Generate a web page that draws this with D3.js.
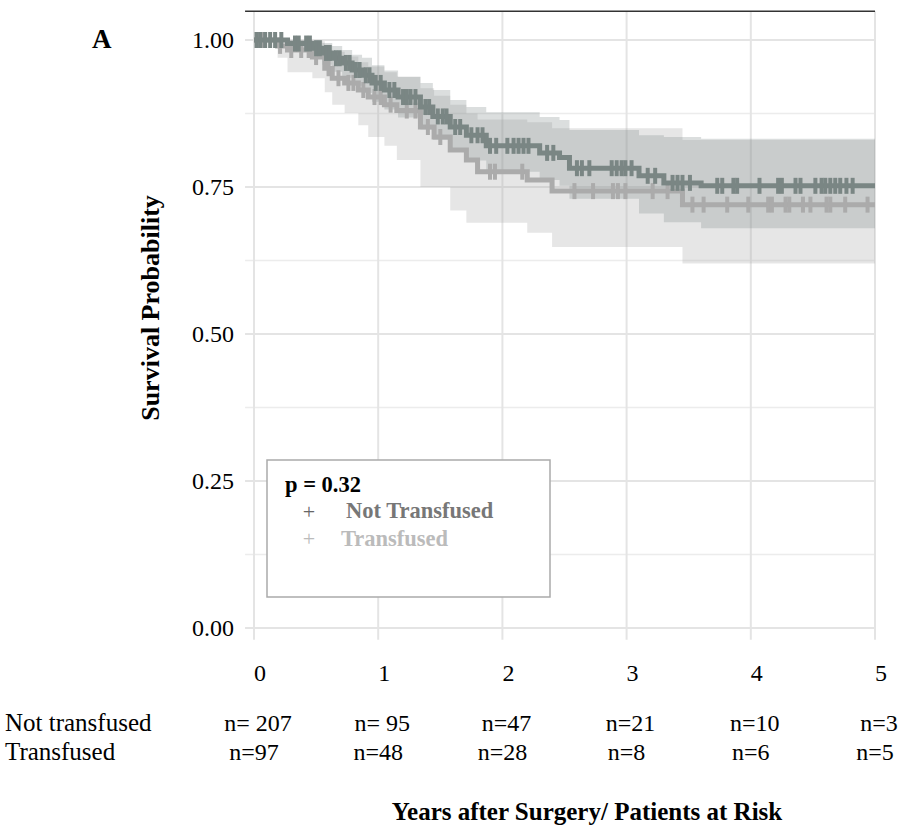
<!DOCTYPE html>
<html lang="en">
<head>
<meta charset="utf-8">
<script src="https://d3js.org/d3.v7.min.js"></script>
<style>
  body { margin: 0; background: #fff; }
  text { font-family: "Liberation Serif", "Times New Roman", serif; }
</style>
</head>
<body>
<script>
// tick labels and risk table
const years = [0, 1, 2, 3, 4, 5];
const yTicks = [0, 0.25, 0.5, 0.75, 1];
const yMinor = [0.125, 0.375, 0.625, 0.875];
const ntAtRisk = ["n= 207", "n= 95", "n=47", "n=21", "n=10", "n=3"];
const trAtRisk = ["n=97", "n=48", "n=28", "n=8", "n=6", "n=5"];

// Not transfused: step times, survival and confidence band
const ntTime  = [0, 0.27, 0.47, 0.55, 0.63, 0.71, 0.79, 0.87, 0.95, 1.05, 1.16, 1.34, 1.44, 1.58, 1.71, 1.87, 2.3, 2.46, 2.54, 3.1, 3.3, 3.6];
const ntSurv  = [1, 0.994, 0.986, 0.978, 0.969, 0.961, 0.949, 0.94, 0.927, 0.915, 0.903, 0.886, 0.87, 0.852, 0.838, 0.82, 0.808, 0.8, 0.782, 0.769, 0.757, 0.752];
const ntUpper = [1, 1, 1, 0.995, 0.99, 0.983, 0.975, 0.97, 0.957, 0.948, 0.937, 0.927, 0.915, 0.898, 0.886, 0.877, 0.869, 0.864, 0.847, 0.838, 0.835, 0.832];
const ntLower = [1, 0.984, 0.97, 0.958, 0.946, 0.936, 0.922, 0.91, 0.895, 0.882, 0.868, 0.848, 0.83, 0.81, 0.795, 0.776, 0.762, 0.752, 0.73, 0.705, 0.69, 0.68];
const ntCensor = [0.02, 0.05, 0.09, 0.13, 0.17, 0.22, 0.33, 0.36, 0.42, 0.45, 0.5, 0.53, 0.58, 0.61, 0.66, 0.69, 0.74, 0.77, 0.82, 0.85, 0.9, 0.93, 0.98, 1.02, 1.09, 1.13, 1.2, 1.23, 1.26, 1.3, 1.38, 1.41, 1.48, 1.52, 1.55, 1.62, 1.66, 1.75, 1.8, 1.84, 1.9, 1.95, 2.04, 2.09, 2.13, 2.17, 2.21, 2.36, 2.41, 2.6, 2.64, 2.7, 2.88, 2.92, 2.96, 2.99, 3.04, 3.17, 3.23, 3.37, 3.41, 3.45, 3.51, 3.73, 3.77, 3.86, 3.89, 4.07, 4.22, 4.25, 4.36, 4.4, 4.52, 4.57, 4.6, 4.64, 4.68, 4.72, 4.77, 4.82];

// Transfused
const trTime  = [0, 0.19, 0.27, 0.47, 0.57, 0.63, 0.73, 0.84, 0.92, 1.05, 1.15, 1.34, 1.45, 1.58, 1.71, 1.8, 2.2, 2.4, 3.45];
const trSurv  = [1, 0.99, 0.983, 0.971, 0.952, 0.935, 0.927, 0.915, 0.903, 0.89, 0.88, 0.852, 0.835, 0.813, 0.796, 0.776, 0.762, 0.743, 0.72];
const trUpper = [1, 1, 1, 0.998, 0.99, 0.98, 0.972, 0.962, 0.955, 0.945, 0.938, 0.918, 0.905, 0.89, 0.875, 0.865, 0.86, 0.85, 0.83];
const trLower = [1, 0.97, 0.945, 0.935, 0.911, 0.89, 0.876, 0.855, 0.835, 0.82, 0.796, 0.75, 0.75, 0.71, 0.689, 0.689, 0.672, 0.648, 0.62];
const trCensor = [0.04, 0.08, 0.21, 0.3, 0.38, 0.44, 0.5, 0.6, 0.68, 0.76, 0.8, 0.88, 0.97, 1.02, 1.1, 1.23, 1.3, 1.4, 1.5, 1.9, 1.94, 2.16, 2.58, 2.73, 2.89, 2.93, 2.99, 3.21, 3.33, 3.53, 3.62, 3.81, 3.98, 4.14, 4.17, 4.28, 4.31, 4.42, 4.48, 4.61, 4.64, 4.76, 4.94];

const ntColor = "#7a8684";
const trColor = "#ababab";

const width = 900, height = 831;
const svg = d3.select("body").append("svg")
  .attr("width", width)
  .attr("height", height);

const x = d3.scaleLinear().domain([0, 5]).range([254, 875]);
const y = d3.scaleLinear().domain([0, 1]).range([628, 40]);
const xLeft = x(-0.072), xRight = x(5);
const yTop = y(1.049), yBottom = y(-0.02);

// grid
svg.append("g").selectAll("line")
  .data(yMinor).enter().append("line")
  .attr("x1", xLeft).attr("x2", xRight)
  .attr("y1", d => y(d)).attr("y2", d => y(d))
  .attr("stroke", "#ececec").attr("stroke-width", 1.5);
svg.append("g").selectAll("line")
  .data(yTicks).enter().append("line")
  .attr("x1", xLeft).attr("x2", xRight)
  .attr("y1", d => y(d)).attr("y2", d => y(d))
  .attr("stroke", "#e4e4e4").attr("stroke-width", 2);
svg.append("g").selectAll("line")
  .data(years).enter().append("line")
  .attr("x1", d => x(d)).attr("x2", d => x(d))
  .attr("y1", yTop).attr("y2", yBottom)
  .attr("stroke", "#e4e4e4").attr("stroke-width", 2);

// top border line
svg.append("line")
  .attr("x1", xLeft).attr("x2", xRight)
  .attr("y1", yTop).attr("y2", yTop)
  .attr("stroke", "#333").attr("stroke-width", 1.5);

function makeRows(time, surv, upper, lower) {
  const rows = time.map((t, i) => ({t: t, s: surv[i], u: upper[i], l: lower[i]}));
  const last = rows[rows.length - 1];
  rows.push({t: 5, s: last.s, u: last.u, l: last.l});
  return rows;
}
const ntRows = makeRows(ntTime, ntSurv, ntUpper, ntLower);
const trRows = makeRows(trTime, trSurv, trUpper, trLower);

const band = d3.area()
  .curve(d3.curveStepAfter)
  .x(d => x(d.t)).y0(d => y(d.l)).y1(d => y(d.u));
const line = d3.line()
  .curve(d3.curveStepAfter)
  .x(d => x(d.t)).y(d => y(d.s));

svg.append("path").datum(trRows)
  .attr("d", band).attr("fill", trColor).attr("fill-opacity", 0.3);
svg.append("path").datum(ntRows)
  .attr("d", band).attr("fill", ntColor).attr("fill-opacity", 0.27);

function survAt(time, surv, t) {
  const i = d3.bisectRight(time, t) - 1;
  return surv[Math.max(0, i)];
}

function drawCurve(rows, time, surv, censor, color) {
  svg.append("path").datum(rows)
    .attr("d", line)
    .attr("fill", "none")
    .attr("stroke", color)
    .attr("stroke-width", 5);
  svg.append("g").selectAll("line")
    .data(censor).enter().append("line")
    .attr("x1", d => x(d)).attr("x2", d => x(d))
    .attr("y1", d => y(survAt(time, surv, d)) - 8)
    .attr("y2", d => y(survAt(time, surv, d)) + 8)
    .attr("stroke", color)
    .attr("stroke-width", 4);
}
drawCurve(trRows, trTime, trSurv, trCensor, trColor);
drawCurve(ntRows, ntTime, ntSurv, ntCensor, ntColor);

// y tick labels
svg.append("g").selectAll("text")
  .data(yTicks).enter().append("text")
  .attr("x", 234).attr("y", d => y(d))
  .attr("dy", "0.35em")
  .attr("text-anchor", "end")
  .attr("font-size", 24)
  .text(d => d.toFixed(2));

// x tick labels
svg.append("g").selectAll("text")
  .data(years).enter().append("text")
  .attr("x", d => x(d) + 6).attr("y", 673)
  .attr("dy", "0.35em")
  .attr("text-anchor", "middle")
  .attr("font-size", 24)
  .text(d => d);

// y title
svg.append("text")
  .attr("transform", "translate(159,308) rotate(-90)")
  .attr("text-anchor", "middle")
  .attr("font-size", 26)
  .attr("font-weight", "bold")
  .text("Survival Probability");

// panel letter
svg.append("text")
  .attr("x", 92).attr("y", 48)
  .attr("font-size", 27)
  .attr("font-weight", "bold")
  .text("A");

// risk table
svg.append("text").attr("x", 5).attr("y", 731).attr("font-size", 25).text("Not transfused");
svg.append("text").attr("x", 5).attr("y", 760).attr("font-size", 25).text("Transfused");
svg.append("g").selectAll("text")
  .data(ntAtRisk).enter().append("text")
  .attr("x", (d, i) => x(years[i]) + 4)
  .attr("y", 731)
  .attr("text-anchor", "middle")
  .attr("font-size", 24)
  .text(d => d);
svg.append("g").selectAll("text")
  .data(trAtRisk).enter().append("text")
  .attr("x", (d, i) => x(years[i]))
  .attr("y", 760)
  .attr("text-anchor", "middle")
  .attr("font-size", 24)
  .text(d => d);

svg.append("text")
  .attr("x", 587).attr("y", 820)
  .attr("text-anchor", "middle")
  .attr("font-size", 25)
  .attr("font-weight", "bold")
  .text("Years after Surgery/ Patients at Risk");

// legend
const legend = svg.append("g");
legend.append("rect")
  .attr("x", 267).attr("y", 460)
  .attr("width", 283).attr("height", 137)
  .attr("fill", "#fff")
  .attr("stroke", "#aaa").attr("stroke-width", 1.5);
legend.append("text")
  .attr("x", 285).attr("y", 492)
  .attr("font-size", 22.5).attr("font-weight", "bold")
  .text("p = 0.32");
legend.append("text")
  .attr("x", 309).attr("y", 519)
  .attr("text-anchor", "middle")
  .attr("font-size", 22).attr("fill", "#666")
  .text("+");
legend.append("text")
  .attr("x", 346).attr("y", 518)
  .attr("font-size", 22.5).attr("font-weight", "bold").attr("fill", "#777")
  .text("Not Transfused");
legend.append("text")
  .attr("x", 309).attr("y", 546)
  .attr("text-anchor", "middle")
  .attr("font-size", 22).attr("fill", "#bbb")
  .text("+");
legend.append("text")
  .attr("x", 341).attr("y", 546)
  .attr("font-size", 22.5).attr("font-weight", "bold").attr("fill", "#bbb")
  .text("Transfused");
</script>
</body>
</html>
